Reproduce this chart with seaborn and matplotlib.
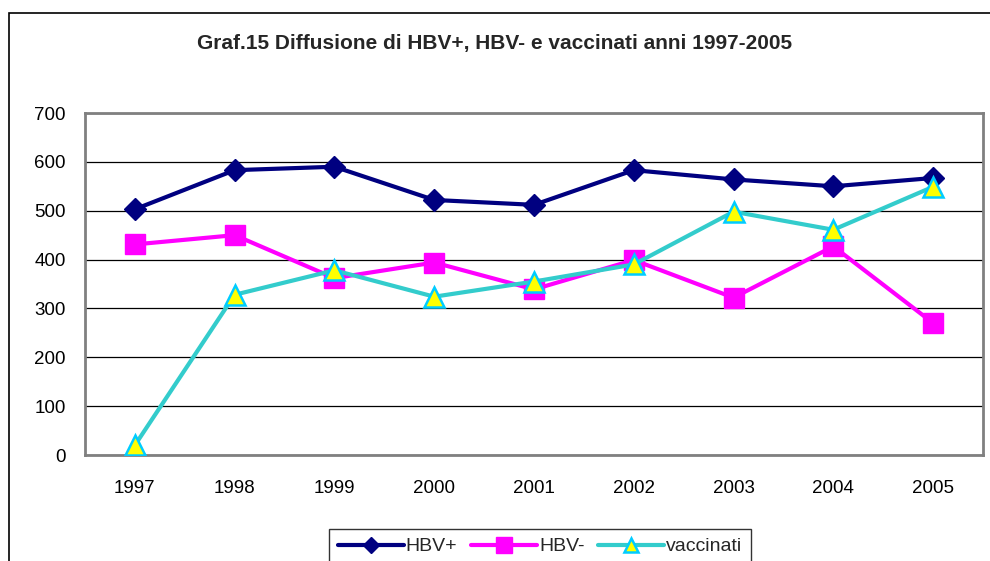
import pandas as pd
import numpy as np
import matplotlib.pyplot as plt
import seaborn as sns
from matplotlib.patches import Rectangle

years = ['1997', '1998', '1999', '2000', '2001', '2002', '2003', '2004', '2005']
hbv_pos = [503, 583, 590, 522, 512, 583, 564, 550, 567]
hbv_neg = [431, 450, 362, 394, 339, 399, 322, 427, 270]
vaccinati = [20, 328, 378, 324, 355, 390, 498, 461, 549]
series_names = ['HBV+', 'HBV-', 'vaccinati']

df = pd.DataFrame({'anno': years, 'HBV+': hbv_pos, 'HBV-': hbv_neg, 'vaccinati': vaccinati})
long = df.melt(id_vars='anno', var_name='serie', value_name='valore')

sns.set_style('white')
plt.rcParams['font.family'] = ['Liberation Sans', 'DejaVu Sans']

fig = plt.figure(figsize=(9.9, 5.61), dpi=100)
ax = fig.add_axes([85 / 990, (561 - 455) / 561, (983 - 85) / 990, (455 - 113) / 561])

styles = {
    'HBV+': dict(color='#000080', marker='D', markersize=11, mfc='#000080', mec='#000080'),
    'HBV-': dict(color='#FF00FF', marker='s', markersize=15, mfc='#FF00FF', mec='#FF00FF'),
    'vaccinati': dict(color='#33CCCC', marker='^', markersize=14, mfc='#FFFF00', mec='#00CCFF', mew=1.8),
}

for name in series_names:
    sub = long[long['serie'] == name]
    st = styles[name]
    sns.lineplot(data=sub, x='anno', y='valore', ax=ax, color=st['color'], lw=3,
                 marker=st['marker'], markersize=st['markersize'],
                 markerfacecolor=st['mfc'], markeredgecolor=st['mec'],
                 markeredgewidth=st.get('mew', 1), label=name, zorder=3)

ax.set_xlim(-0.5, len(years) - 0.5)
ax.set_ylim(0, 700)
ax.set_yticks(range(0, 701, 100))
ax.yaxis.grid(True, color='black', lw=0.9)
ax.set_axisbelow(True)
ax.set_xlabel('')
ax.set_ylabel('')
for s in ax.spines.values():
    s.set_color('#808080')
    s.set_linewidth(2)
ax.tick_params(axis='both', labelsize=13.5, colors='black', length=5, width=1, direction='out')
ax.tick_params(axis='x', pad=18)
ax.tick_params(axis='y', pad=9, color='#404040')
ax.set_xticks(np.arange(-0.5, len(years), 1), minor=True)
ax.tick_params(axis='x', which='major', length=0)
ax.tick_params(axis='x', which='minor', length=6, width=1, color='#404040')

fig.text(0.5, 1 - 43 / 561, 'Graf.15 Diffusione di HBV+, HBV- e vaccinati anni 1997-2005',
         ha='center', va='center', fontsize=15, fontweight='bold')

# chart area frame
fig.patches.append(Rectangle((9 / 990, -0.1), 1.2, 1 - 13 / 561 + 0.1, transform=fig.transFigure,
                             fill=False, ec='black', lw=1.2))

leg = ax.legend(loc='upper center', bbox_to_anchor=(540 / 990, 32 / 561), bbox_transform=fig.transFigure,
                borderaxespad=0, ncol=3, frameon=True, fontsize=14, handlelength=3.4,
                handletextpad=0.1, columnspacing=0.7, borderpad=0.45, fancybox=False,
                markerscale=0.75)
leg.get_frame().set_edgecolor('black')
leg.get_frame().set_linewidth(1)

fig.savefig('out.png', dpi=100)
